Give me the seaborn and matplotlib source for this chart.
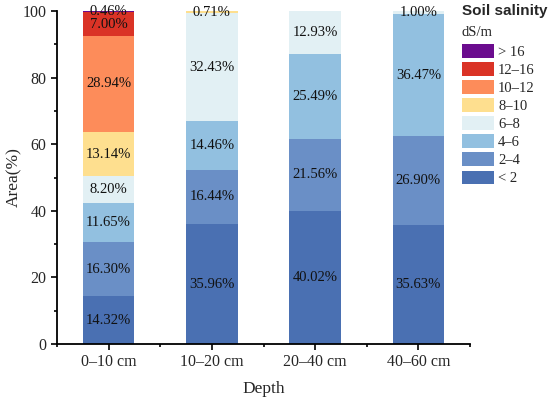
import numpy as np
import pandas as pd
import matplotlib
matplotlib.use("Agg")
import matplotlib.pyplot as plt
from matplotlib.patches import Patch
from matplotlib.ticker import MultipleLocator, FixedLocator
import seaborn as sns

# --- dados ---
depths = ["0–10 cm", "10–20 cm", "20–40 cm", "40–60 cm"]
classes = ["< 2", "2–4", "4–6", "6–8", "8–10", "10–12", "12–16", "> 16"]

lt2 = [14.32, 35.96, 40.02, 35.63]
c2_4 = [16.30, 16.44, 21.56, 26.90]
c4_6 = [11.65, 14.46, 25.49, 36.47]
c6_8 = [8.20, 32.43, 12.93, 1.00]
c8_10 = [13.14, 0.71, 0.0, 0.0]
c10_12 = [28.94, 0.0, 0.0, 0.0]
c12_16 = [7.00, 0.0, 0.0, 0.0]
gt16 = [0.46, 0.0, 0.0, 0.0]

colors = ["#4A70B2", "#6A8FC6", "#92C0E0", "#E2F0F4",
          "#FEDF8F", "#FD8C5A", "#DA3326", "#6B0C8E"]

series = [lt2, c2_4, c4_6, c6_8, c8_10, c10_12, c12_16, gt16]

# --- estilo ---
sns.set_style("ticks")
plt.rcParams["font.family"] = ["Liberation Serif", "DejaVu Serif"]
plt.rcParams["font.size"] = 10

fig = plt.figure(figsize=(5.5, 3.99), dpi=100)
ax = fig.add_axes([57 / 550, 55 / 399, 413 / 550, 333 / 399])

bottom = np.zeros(len(depths))
for vals, col in zip(series, colors):
    vals = np.array(vals)
    sns.barplot(x=depths, y=vals, bottom=bottom, color=col, width=0.5,
                saturation=1, linewidth=0, ax=ax)
    for i, v in enumerate(vals):
        if v > 0:
            ax.text(i, bottom[i] + v / 2, f"{v:.2f}%", ha="center", va="center",
                    fontsize=10.5, color="#111111")
    bottom += vals

# --- eixos ---
ax.set_xlim(-0.5, 3.5)
ax.set_ylim(0, 100)
ax.yaxis.set_major_locator(MultipleLocator(20))
ax.yaxis.set_minor_locator(MultipleLocator(10))
ax.xaxis.set_minor_locator(FixedLocator([-0.5, 0.5, 1.5, 2.5, 3.5]))
ax.tick_params(axis="both", which="major", length=4, width=1.2, labelsize=11.5, color="black")
ax.tick_params(axis="both", which="minor", length=2.5, width=1.2, color="black")
for s in ["left", "bottom"]:
    ax.spines[s].set_linewidth(1.3)
    ax.spines[s].set_color("black")
sns.despine(ax=ax)
ax.set_xlabel("Depth", fontsize=12.5)
ax.set_ylabel("Area(%)", fontsize=12.5)
ax.xaxis.set_label_coords(0.5, -0.11)
ax.yaxis.set_label_coords(-0.085, 0.5)

# --- legenda ---
handles = [Patch(facecolor=c, edgecolor="none") for c in colors][::-1]
labels = classes[::-1]
fig.text(462 / 550, 1 - 11 / 399, "Soil salinity", family="Liberation Sans",
         fontweight="bold", fontsize=11, ha="left", va="center")
fig.text(462 / 550, 1 - 33 / 399, "dS/m", fontsize=10.5, ha="left", va="center")
fig.legend(handles, labels, loc="upper left", bbox_to_anchor=(462 / 550, 1 - 44 / 399),
           frameon=False, borderpad=0, borderaxespad=0, handlelength=2.2,
           handleheight=1.08, labelspacing=0.22, handletextpad=0.27, fontsize=10.5)

fig.savefig("out.png", dpi=100)
